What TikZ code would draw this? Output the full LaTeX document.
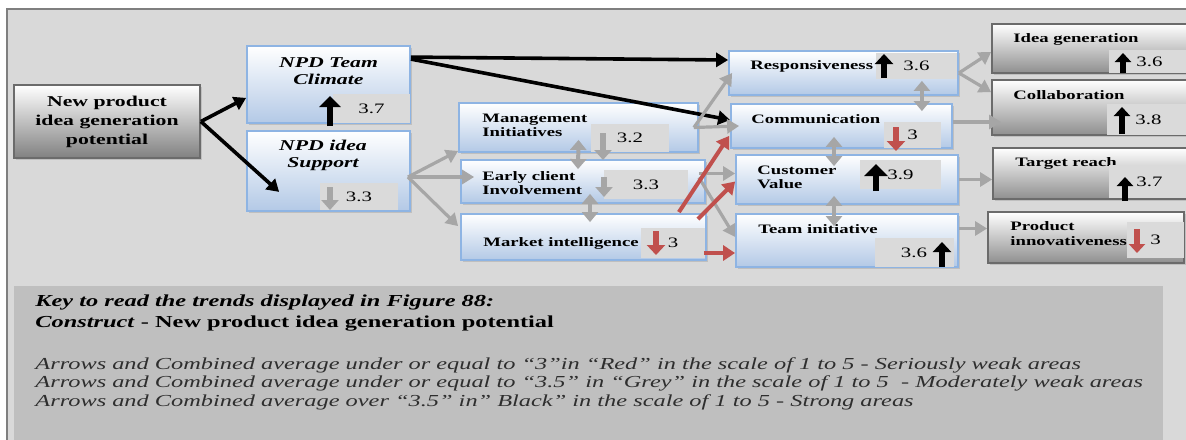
\documentclass[tikz,border=0pt]{standalone}
\usepackage{fontspec}
\setmainfont{Liberation Serif}[FakeStretch=1.45]
\usepackage{xcolor}
\usepackage{tikz}
\usetikzlibrary{calc, positioning, arrows.meta, shadows}

\definecolor{bgback}{HTML}{D9D9D9}
\definecolor{keygrey}{HTML}{BFBFBF}
\definecolor{framegrey}{HTML}{7F7F7F}
\definecolor{boxblue}{HTML}{B3C9E6}
\definecolor{edgeblue}{HTML}{8EB4E3}
\definecolor{boxgrey}{HTML}{8F8F8F}
\definecolor{edgegrey}{HTML}{6B6B6B}
\definecolor{valgrey}{HTML}{DADADA}
\definecolor{arrgrey}{HTML}{A6A6A6}
\definecolor{arrred}{HTML}{C0504D}
\definecolor{keytext}{HTML}{2E2E2E}

\begin{document}
\begin{tikzpicture}[x=0.5pt, y=-0.5pt,
    bluebox/.style={draw=edgeblue, line width=0.9pt, top color=white, bottom color=boxblue,
        drop shadow={shadow xshift=1.2pt, shadow yshift=-1.2pt, fill=black!35}},
    greybox/.style={draw=edgegrey, line width=0.9pt, top color=white, bottom color=boxgrey,
        drop shadow={shadow xshift=1pt, shadow yshift=-1pt, fill=black!35}},
    valbox/.style={fill=valgrey, inner sep=0pt, font=\fontsize{7.2}{8}\selectfont},
    ttl/.style={anchor=west, inner sep=0pt, align=left, font=\bfseries\fontsize{6.45}{7}\selectfont},
    ttlit/.style={inner sep=0pt, align=center, font=\bfseries\itshape\fontsize{7.5}{8.5}\selectfont},
    blkarr/.style={black, line width=1.8pt, -{Triangle[length=6pt, width=7pt]}},
    gryarr/.style={arrgrey, line width=1.6pt, -{Triangle[length=6pt, width=7pt]}},
    redarr/.style={arrred, line width=2pt, -{Triangle[length=6pt, width=7.5pt]}},
    dblarr/.style={arrgrey, line width=2pt, {Triangle[length=5pt, width=8pt]}-{Triangle[length=5pt, width=8pt]}},
    trendblk/.style={black, line width=2.8pt, -{Triangle[length=5pt, width=9pt]}},
    trendgry/.style={arrgrey, line width=2.6pt, -{Triangle[length=5pt, width=8.5pt]}},
    trendred/.style={arrred, line width=2.8pt, -{Triangle[length=5pt, width=9pt]}},
    keyhead/.style={anchor=west, inner sep=0pt, font=\bfseries\fontsize{8.4}{10}\selectfont},
    keyline/.style={anchor=west, inner sep=0pt, text=keytext, font=\itshape\fontsize{8.4}{10}\selectfont}]
    \useasboundingbox (0,0) rectangle (1186,439);

    % Background and key panel
    \draw[framegrey, line width=1pt, fill=bgback] (7,9) rectangle (1200,450);
    \fill[keygrey] (14,286) rectangle (1163,450);

    % Construct
    \node[greybox, bottom color=boxgrey!90!black, minimum width=93pt, minimum height=36.5pt,
        align=center, font=\bfseries\fontsize{7.5}{9.5}\selectfont] (root) at (107,121.5)
        {New product\\idea generation\\potential};

    % Drivers
    \node[bluebox, minimum width=81.5pt, minimum height=38.5pt] (clim) at (328.5,84.5) {};
    \node[bluebox, minimum width=81.5pt, minimum height=40pt] (sup) at (328.5,171) {};
    \node[ttlit] (climt) at (328.5,71) {NPD Team\\Climate};
    \node[ttlit] (supt) at (323,155) {NPD idea\\Support};
    \node[valbox, minimum width=38.5pt, minimum height=14.5pt] (climv) at (371.5,108.5) {3.7};
    \node[valbox, minimum width=39pt, minimum height=13.5pt] (supv) at (359,196.5) {3.3};

    % Support elements
    \node[bluebox, minimum width=119.5pt, minimum height=24.5pt] (mgmt) at (578.5,127.5) {};
    \node[bluebox, minimum width=122pt, minimum height=21.5pt] (early) at (583,181.5) {};
    \node[bluebox, minimum width=122.5pt, minimum height=23pt] (mkt) at (583.5,237) {};
    \node[ttl] (mgmtt) at (482,125) {Management\\Initiatives};
    \node[ttl] (earlyt) at (482,183) {Early client\\Involvement};
    \node[ttl] (mktt) at (483,243) {Market intelligence};
    \node[valbox, minimum width=39pt, minimum height=14pt] (mgmtv) at (630,138) {3.2};
    \node[valbox, minimum width=42pt, minimum height=14.5pt] (earlyv) at (646,184.5) {3.3};
    \node[valbox, minimum width=32pt, minimum height=15pt] (mktv) at (673,243) {3};

    % Climate elements
    \node[bluebox, minimum width=114.5pt, minimum height=22pt] (resp) at (843.5,73) {};
    \node[bluebox, minimum width=110.5pt, minimum height=22pt] (comm) at (841.5,126) {};
    \node[bluebox, minimum width=111pt, minimum height=24.5pt] (cust) at (847,179.5) {};
    \node[bluebox, minimum width=111pt, minimum height=26.5pt] (team) at (847,240.5) {};
    \node[ttl] (respt) at (750,66) {Responsiveness};
    \node[ttl] (commt) at (751,119) {Communication};
    \node[ttl] (custt) at (757,177) {Customer\\Value};
    \node[ttl] (teamt) at (758,229) {Team initiative};
    \node[valbox, minimum width=40.5pt, minimum height=13pt] (respv) at (916.5,66) {3.6};
    \node[valbox, minimum width=28.5pt, minimum height=13pt] (commv) at (912.5,135) {3};
    \node[valbox, minimum width=40.5pt, minimum height=14.5pt] (custv) at (900.5,174.5) {3.9};
    \node[valbox, minimum width=39.5pt, minimum height=14.5pt] (teamv) at (914,252.5) {3.6};

    % Outcomes
    \node[greybox, minimum width=99pt, minimum height=24.5pt] (idea) at (1091,48.5) {};
    \node[greybox, minimum width=99pt, minimum height=27.5pt] (collab) at (1091,107.5) {};
    \node[greybox, minimum width=98.5pt, minimum height=25.5pt] (target) at (1091.5,173.5) {};
    \node[greybox, minimum width=98pt, minimum height=25.5pt] (prod) at (1086,237.5) {};
    \node[ttl] (ideat) at (1013,39) {Idea generation};
    \node[ttl] (collabt) at (1013,95) {Collaboration};
    \node[ttl] (targett) at (1015,163) {Target reach};
    \node[ttl, font=\bfseries\fontsize{6.45}{7.5}\selectfont] (prodt) at (1010,233.5) {Product\\innovativeness};
    \node[valbox, minimum width=40.5pt, minimum height=11.5pt] (ideav) at (1149.5,61.5) {3.6};
    \node[valbox, minimum width=41.5pt, minimum height=15.5pt] (collabv) at (1148.5,119.5) {3.8};
    \node[valbox, minimum width=40.5pt, minimum height=16.5pt] (targetv) at (1149.5,181.5) {3.7};
    \node[valbox, minimum width=28.5pt, minimum height=18pt] (prodv) at (1155.5,240) {3};

    % Trend arrows
    \draw[trendblk, -{Triangle[length=5.5pt, width=10.5pt]}] (330,126) -- (330,96);
    \draw[trendgry] (330,187) -- (330,210);
    \draw[trendgry] (603,133) -- (603,160);
    \draw[trendgry] (604,177) -- (604,197);
    \draw[trendred] (656,231) -- (656,255);
    \draw[trendblk] (884,78) -- (884,54);
    \draw[trendred] (896,127) -- (896,151);
    \draw[trendblk, -{Triangle[length=6pt, width=11.5pt]}] (876,191) -- (876,164);
    \draw[trendblk] (942,267) -- (942,242);
    \draw[trendblk, -{Triangle[length=4.5pt, width=8pt]}] (1123,73) -- (1123,53);
    \draw[trendblk, -{Triangle[length=4.5pt, width=8pt]}] (1122,134) -- (1122,107);
    \draw[trendblk, -{Triangle[length=4.5pt, width=8pt]}] (1125,201) -- (1125,177);
    \draw[trendred, -{Triangle[length=4.5pt, width=8pt]}] (1137,229) -- (1137,253);

    % Links from the construct
    \draw[blkarr] (root.east) -- ($(clim.south west)+(0,-26)$);
    \draw[blkarr] (root.east) -- ($(sup.south west)+(33,-20)$);
    \draw[blkarr] ($(clim.north east)+(0,12)$) -- ($(resp.west)+(0,-13)$);
    \draw[blkarr] ($(clim.north east)+(0,14)$) -- ($(comm.west)+(0,-6)$);

    % Links from idea support
    \draw[gryarr] ($(sup.east)+(-3,6)$) -- ($(mgmt.south west)+(0,-2)$);
    \draw[gryarr] ($(sup.east)+(-3,6)$) -- ($(early.west)+(14,-4.5)$);
    \draw[gryarr] ($(sup.east)+(-3,6)$) -- ($(mkt.north west)+(-2,13)$);
    \draw[gryarr] ($(mgmt.east)+(-5,0)$) -- ($(resp.west)+(4,0)$);
    \draw[gryarr] ($(mgmt.east)+(-5,0)$) -- ($(comm.west)+(9,0)$);
    \draw[gryarr] ($(early.east)+(-7,-8)$) -- ($(cust.west)+(0,-6)$);
    \draw[gryarr] ($(early.east)+(-7,-4)$) -- ($(team.west)+(0,-3.5)$);
    \draw[redarr] ($(mkt.north east)+(-28,-1)$) -- ($(comm.south west)+(-1,-13)$);
    \draw[redarr] ($(mkt.north east)+(-9,6)$) -- ($(cust.west)+(0,2)$);
    \draw[redarr] ($(mkt.east)+(-3,16)$) -- ($(team.west)+(0,12.5)$);

    % Links to outcomes
    \draw[gryarr] (resp.east) -- ($(idea.west)+(0,3.5)$);
    \draw[gryarr] (resp.east) -- ($(collab.north west)+(0,13)$);
    \draw[gryarr] ($(comm.east)+(0,-4)$) -- ($(collab.west)+(10,14.5)$);
    \draw[gryarr] (cust.east) -- (cust.east -| target.west);
    \draw[gryarr] ($(team.east)+(0,-12)$) -- ($(prod.west)+(0,-9)$);

    % Two-way links
    \draw[dblarr] ($(mgmt.south)+(0,-13)$) -- ($(early.north)+(-5,10)$);
    \draw[dblarr] ($(early.south)+(7,-10)$) -- ($(mkt.north)+(6.5,9)$);
    \draw[dblarr] ($(resp.south east)+(-37,-15)$) -- ($(comm.north east)+(-31,8)$);
    \draw[dblarr] ($(comm.south)+(-7.5,-12)$) -- ($(cust.north)+(-13,12)$);
    \draw[dblarr] ($(cust.south)+(-13,-9)$) -- ($(team.north)+(-13,13)$);

    % Key
    \node[keyhead] (keya) at (35,302) {\textit{Key to read the trends displayed in Figure 88:}};
    \node[keyhead] (keyb) at (35,324) {\textit{Construct} - New product idea generation potential};
    \node[keyline] (keyc) at (35,365) {Arrows and Combined average under or equal to “3”in “Red” in the scale of 1 to 5 - Seriously weak areas};
    \node[keyline] (keyd) at (35,383) {Arrows and Combined average under or equal to “3.5” in “Grey” in the scale of 1 to 5 \ - Moderately weak areas};
    \node[keyline] (keye) at (35,402) {Arrows and Combined average over “3.5” in” Black” in the scale of 1 to 5 - Strong areas};
\end{tikzpicture}
\end{document}
